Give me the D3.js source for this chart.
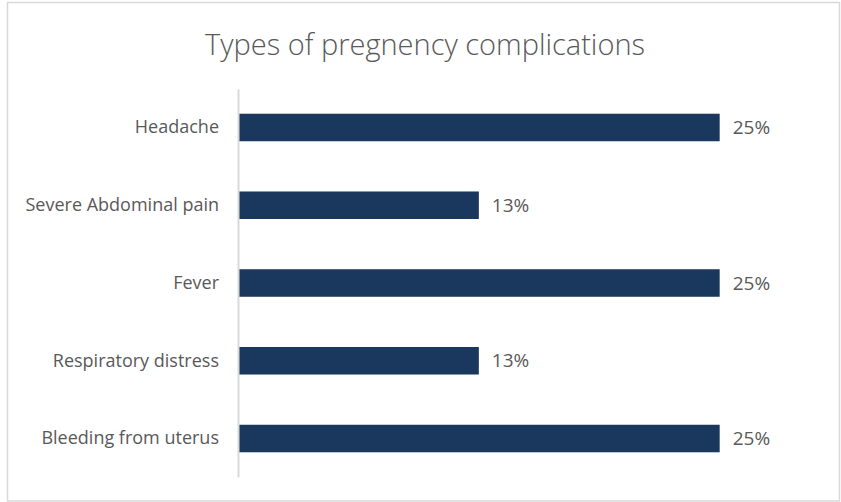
<!DOCTYPE html>
<html>
<head>
<meta charset="utf-8">
<script src="https://cdn.jsdelivr.net/npm/d3@7"></script>
<style>
  html, body { margin: 0; padding: 0; background: #fff; }
  svg { display: block; }
  text { font-family: "Open Sans", "Noto Sans", sans-serif; }
</style>
</head>
<body>
<svg id="chart" width="841" height="502"></svg>
<script>
const categories = ["Headache", "Severe Abdominal pain", "Fever", "Respiratory distress", "Bleeding from uterus"];
const values = [0.25, 0.125, 0.25, 0.125, 0.25];
const xDomain = [0, 0.3];
const title = "Types of pregnency complications";

const svg = d3.select("#chart");
const textColor = "#595959";
const barColor = "#1A385E";

// outer frame
svg.append("rect")
  .attr("x", 7.5).attr("y", 2.5)
  .attr("width", 832).attr("height", 498.5)
  .attr("fill", "#fff")
  .attr("stroke", "#d9d9d9")
  .attr("stroke-width", 1.5);

// title
svg.append("text")
  .attr("x", 425).attr("y", 55)
  .attr("text-anchor", "middle")
  .attr("font-size", 29)
  .attr("font-weight", 300)
  .attr("fill", textColor)
  .text(title);

const plotLeft = 238, plotRight = 816, plotTop = 89, plotBottom = 477;

const x = d3.scaleLinear().domain(xDomain).range([plotLeft, plotRight]);
const y = d3.scaleBand().domain(categories).range([plotTop, plotBottom])
  .paddingInner(0.646).paddingOuter(0.318);

const fmt = d3.format(".0%");

// bars
svg.append("g").selectAll("rect")
  .data(categories)
  .join("rect")
  .attr("x", x(0) + 1)
  .attr("y", d => y(d))
  .attr("width", (d, i) => x(values[i]) - x(0) - 1)
  .attr("height", y.bandwidth())
  .attr("fill", barColor);

// value labels
svg.append("g").selectAll("text")
  .data(categories)
  .join("text")
  .attr("x", (d, i) => x(values[i]) + 13)
  .attr("y", d => y(d) + y.bandwidth() / 2)
  .attr("dy", "0.35em")
  .attr("font-size", 19)
  .attr("fill", textColor)
  .text((d, i) => fmt(values[i]));

// category axis
const axis = svg.append("g")
  .attr("transform", `translate(${plotLeft},0)`)
  .call(d3.axisLeft(y).tickSize(0).tickPadding(19).tickSizeOuter(0));
axis.select(".domain").attr("stroke", "#d9d9d9").attr("stroke-width", 2);
axis.selectAll(".tick text")
  .attr("font-size", 18)
  .attr("font-family", "'Open Sans', 'Noto Sans', sans-serif")
  .attr("fill", textColor);
</script>
</body>
</html>
